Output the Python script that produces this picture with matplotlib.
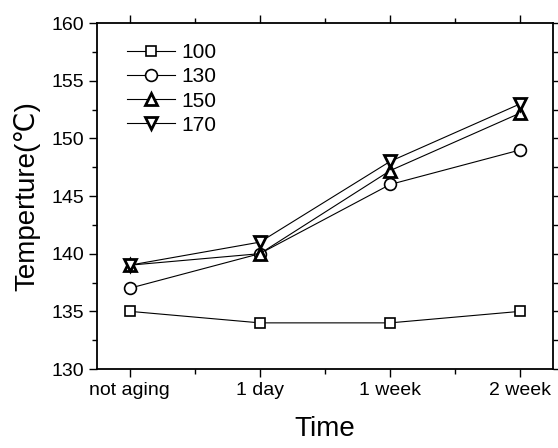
import matplotlib.pyplot as plt

plt.rcParams['font.family'] = ['Liberation Sans', 'DejaVu Sans', 'Noto Sans CJK SC']

# dados
tempos = ['not aging', '1 day', '1 week', '2 week']
t100 = [135, 134, 134, 135]
t130 = [137, 140, 146, 149]
t150 = [139, 140, 147.2, 152.2]
t170 = [139, 141, 148, 153]

fig = plt.figure(figsize=(5.58, 4.48), dpi=100)
ax = fig.add_axes([97/558, 1-369/448, 456/558, 346/448])

x = list(range(len(tempos)))
ax.plot(x, t100, c='black', lw=0.8, marker='s', ms=6.5, mfc='white', mec='black', mew=1.2, label='100')
ax.plot(x, t130, c='black', lw=0.8, marker='o', ms=8.5, mfc='white', mec='black', mew=1.2, label='130')
ax.plot(x, t150, c='black', lw=0.8, marker='^', ms=9, mfc='white', mec='black', mew=2, label='150')
ax.plot(x, t170, c='black', lw=0.8, marker='v', ms=9, mfc='white', mec='black', mew=2, label='170')

ax.set_xlim(-0.25, 3.25)
ax.set_ylim(130, 160)
ax.set_xticks(x)
ax.set_xticklabels(tempos)
ax.set_xticks([0.5, 1.5, 2.5], minor=True)
ax.set_yticks(range(130, 161, 5))
ax.set_yticks([132.5 + 5*i for i in range(6)], minor=True)
ax.tick_params(which='both', direction='out', top=True, right=True, labelsize=14, width=1)
ax.tick_params(which='major', length=6)
ax.tick_params(which='minor', length=3.5)
for s in ax.spines.values():
    s.set_linewidth(1.3)

ax.set_xlabel('Time', fontsize=20, labelpad=12)
ax.set_ylabel('Temperture(℃)', fontsize=20, labelpad=8)

ax.legend(loc='upper left', frameon=False, fontsize=15, handlelength=2.3,
          handletextpad=0.3, labelspacing=0.25, borderaxespad=0.4,
          bbox_to_anchor=(0.03, 0.99))

plt.savefig('out.png')
